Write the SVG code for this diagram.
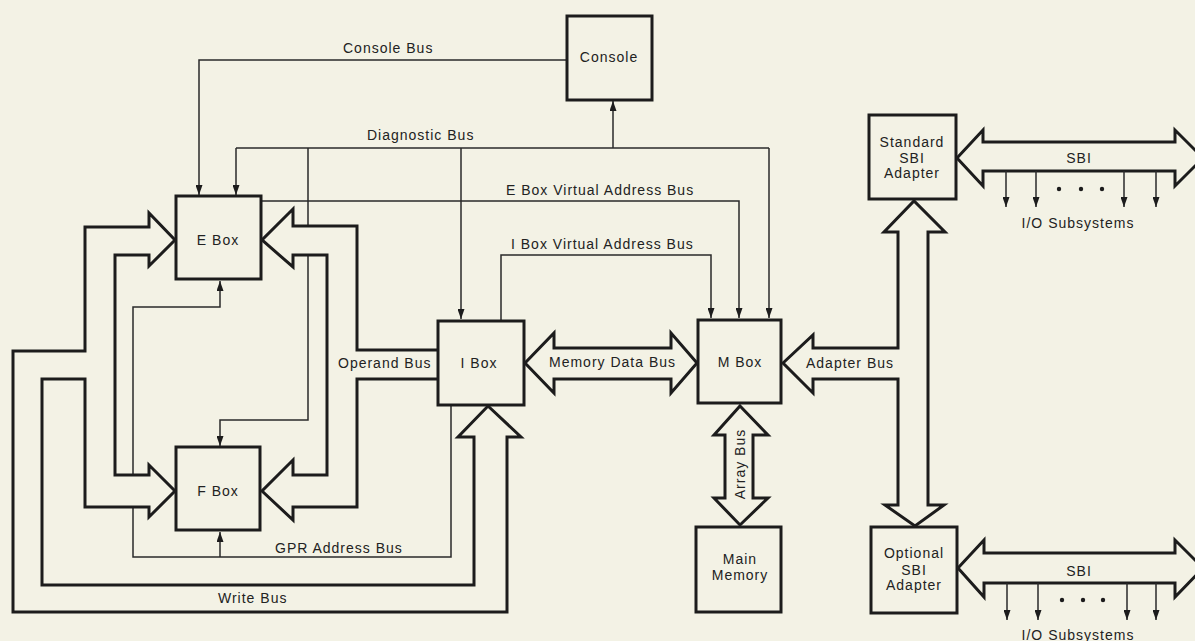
<svg xmlns="http://www.w3.org/2000/svg" width="1195" height="641" viewBox="0 0 1195 641">
<style>
.bg{fill:#f3f2e5}
.box{fill:#f3f2e5;stroke:#1c1c1c;stroke-width:3}
.thin{fill:none;stroke:#2a2a2a;stroke-width:1.5}
.bus{fill:#f3f2e5;stroke:#1c1c1c;stroke-width:3;stroke-linejoin:miter}
text{font-family:"Liberation Sans",Arial,sans-serif;font-size:14px;letter-spacing:1px;fill:#222}
.c{text-anchor:middle}
</style>
<defs>
<marker id="ah" markerUnits="userSpaceOnUse" markerWidth="10" markerHeight="7" refX="10" refY="3.5" orient="auto">
<path d="M0,0 L10,3.5 L0,7 z" fill="#1c1c1c"/>
</marker>
</defs>
<rect class="bg" x="0" y="0" width="1195" height="641"/>
<g id="connectors">
<path class="thin" d="M567,60 H199 V195" marker-end="url(#ah)"/>
<path class="thin" d="M236,148 H769"/>
<path class="thin" d="M236,148 V195" marker-end="url(#ah)"/>
<path class="thin" d="M769,148 V318" marker-end="url(#ah)"/>
<path class="thin" d="M613,148 V101" marker-end="url(#ah)"/>
<path class="thin" d="M461,148 V319" marker-end="url(#ah)"/>
<path class="thin" d="M308,148 V420 H220 V446" marker-end="url(#ah)"/>
<path class="thin" d="M261,201 H739 V318" marker-end="url(#ah)"/>
<path class="thin" d="M501,321 V255 H711 V318" marker-end="url(#ah)"/>
<path class="thin" d="M451,405 V557 H133 V307 H220 V281" marker-end="url(#ah)"/>
<path class="thin" d="M220,557 V532" marker-end="url(#ah)"/>
<path class="bus" d="M438,350 H357 V226 H293 V209 L262,240 L293,267 V255 H327 V475 H293 V460 L262,491 L293,520 V507 H357 V379 H438"/>
<path class="bus" d="M521,437 H507 V612 H13 V351 H85 V227 H149 V213 L175,240 L149,266 V255 H115 V475 H149 V465 L175,491 L149,517 V507 H85 V379 H42 V585 H474 V437 H458 L488,406 Z"/>
<path class="bus" d="M525,363 L554,333 V348 H671 V333 L697,363 L671,393 V379 H554 V393 Z"/>
<path class="bus" d="M740,406 L768,435 H753 V498 H768 L740,525 L714,498 H725 V435 H714 Z"/>
<path class="bus" d="M783,363 L813,335 V348 H898 V232 H884 L914,201 L945,232 H928 V505 H944 L915,526 L885,505 H898 V379 H813 V393 Z"/>
<path class="bus" d="M957,158 L983,130 V142 H1175 V130 L1203,158 L1175,186 V171 H983 V186 Z"/>
<path class="bus" d="M958,568 L984,540 V553 H1175 V540 L1203,568 L1175,597 V583 H984 V597 Z"/>
<path class="thin" d="M1006,171 V207" marker-end="url(#ah)"/>
<path class="thin" d="M1036,171 V207" marker-end="url(#ah)"/>
<path class="thin" d="M1124,171 V207" marker-end="url(#ah)"/>
<path class="thin" d="M1156,171 V207" marker-end="url(#ah)"/>
<circle cx="1059" cy="189" r="2.2" fill="#1c1c1c"/>
<circle cx="1081" cy="189" r="2.2" fill="#1c1c1c"/>
<circle cx="1102" cy="189" r="2.2" fill="#1c1c1c"/>
<path class="thin" d="M1007,583 V620" marker-end="url(#ah)"/>
<path class="thin" d="M1038,583 V620" marker-end="url(#ah)"/>
<path class="thin" d="M1127,583 V620" marker-end="url(#ah)"/>
<path class="thin" d="M1156,583 V620" marker-end="url(#ah)"/>
<circle cx="1062" cy="600" r="2.2" fill="#1c1c1c"/>
<circle cx="1083" cy="600" r="2.2" fill="#1c1c1c"/>
<circle cx="1103" cy="600" r="2.2" fill="#1c1c1c"/>
<text x="343" y="53">Console Bus</text>
<text x="367" y="140">Diagnostic Bus</text>
<text x="506" y="195">E Box Virtual Address Bus</text>
<text x="511" y="249">I Box Virtual Address Bus</text>
<text x="338" y="368">Operand Bus</text>
<text x="275" y="553">GPR Address Bus</text>
<text x="218" y="603">Write Bus</text>
<text x="549" y="367">Memory Data Bus</text>
<text x="806" y="368">Adapter Bus</text>
<text class="c" transform="translate(745,464) rotate(-90)">Array Bus</text>
<text class="c" x="1079" y="163">SBI</text>
<text class="c" x="1079" y="576">SBI</text>
<text class="c" x="1078" y="228">I/O Subsystems</text>
<text class="c" x="1078" y="640">I/O Subsystems</text>
</g>
<g id="console"><rect class="box" x="567" y="16" width="85" height="84"/><text class="c" x="609" y="62">Console</text></g>
<g id="ebox"><rect class="box" x="176" y="196" width="85" height="83"/><text class="c" x="218" y="245">E Box</text></g>
<g id="fbox"><rect class="box" x="176" y="447" width="84" height="83"/><text class="c" x="218" y="496">F Box</text></g>
<g id="ibox"><rect class="box" x="438" y="321" width="86" height="84"/><text class="c" x="479" y="368">I Box</text></g>
<g id="mbox"><rect class="box" x="698" y="320" width="83" height="83"/><text class="c" x="740" y="367">M Box</text></g>
<g id="mainmemory"><rect class="box" x="696" y="527" width="85" height="85"/><text class="c" x="740" y="564">Main</text><text class="c" x="740" y="580">Memory</text></g>
<g id="stdsbi"><rect class="box" x="869" y="115" width="87" height="84"/><text class="c" x="912" y="147">Standard</text><text class="c" x="912" y="163">SBI</text><text class="c" x="912" y="178">Adapter</text></g>
<g id="optsbi"><rect class="box" x="871" y="527" width="86" height="86"/><text class="c" x="914" y="558">Optional</text><text class="c" x="914" y="575">SBI</text><text class="c" x="914" y="590">Adapter</text></g>
</svg>
